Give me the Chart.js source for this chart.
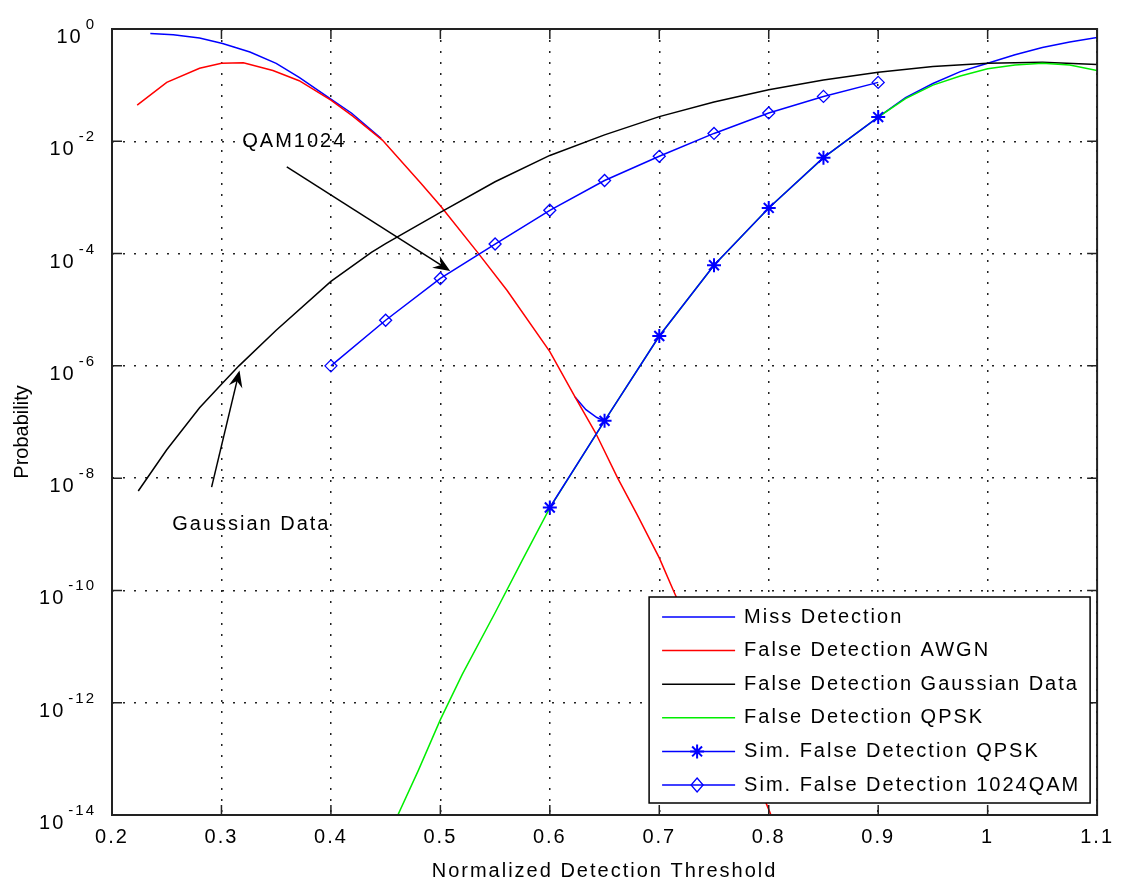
<!DOCTYPE html>
<html>
<head>
<meta charset="utf-8">
<script src="https://cdn.jsdelivr.net/npm/chart.js@4.4.1/dist/chart.umd.min.js"></script>
<style>
  body { margin: 0; background: #fff; }
  #wrap { width: 1121px; height: 883px; }
</style>
</head>
<body>
<div id="wrap"><canvas id="chart" width="1121" height="883"></canvas></div>
<script>
// values (x = normalized threshold, y = probability)
const missX = [0.235, 0.256, 0.28, 0.301, 0.326, 0.35, 0.371, 0.398, 0.419, 0.446, 0.5, 0.623, 0.633, 0.643, 0.65, 0.8, 0.9, 0.925, 0.95, 0.975, 1.0, 1.025, 1.05, 1.075, 1.1]
const missY = [0.83, 0.79, 0.69, 0.55, 0.39, 0.245, 0.138, 0.06, 0.0316, 0.0112, null, 2.8e-7, 1.66e-7, 1.2e-7, 1.05e-7, null, 0.0269, 0.06, 0.107, 0.174, 0.245, 0.347, 0.468, 0.589, 0.708]

const awgnX = [0.223, 0.25, 0.28, 0.3, 0.32, 0.347, 0.371, 0.4, 0.42, 0.447, 0.482, 0.5, 0.534, 0.561, 0.6, 0.623, 0.642, 0.662, 0.68, 0.7, 0.714, 0.75, 0.8, 0.81]
const awgnY = [4.4e-2, 0.112, 0.2, 0.245, 0.25, 0.182, 0.12, 5.4e-2, 2.8e-2, 1.05e-2, 1.8e-3, 7.1e-4, 1.05e-4, 2.2e-5, 1.8e-6, 2.8e-7, 6.3e-8, 1.0e-8, 2.2e-9, 3.8e-10, 8.9e-11, 2.5e-12, 1.26e-14, 4e-15]

const gaussX = [0.224, 0.25, 0.28, 0.3, 0.316, 0.35, 0.4, 0.437, 0.45, 0.5, 0.55, 0.6, 0.65, 0.7, 0.75, 0.8, 0.85, 0.9, 0.95, 1.0, 1.05, 1.1]
const gaussY = [5.9e-9, 3.2e-8, 1.8e-7, 4.7e-7, 1.0e-6, 4.3e-6, 3.2e-5, 1.05e-4, 1.5e-4, 5.4e-4, 1.9e-3, 5.6e-3, 1.3e-2, 2.75e-2, 5.0e-2, 8.3e-2, 0.123, 0.17, 0.214, 0.245, 0.257, 0.234]

const qpskX = [0.46, 0.48, 0.5, 0.52, 0.55, 0.575, 0.6, 0.65, 0.7, 0.75, 0.8, 0.85, 0.9, 0.925, 0.95, 0.975, 1.0, 1.025, 1.05, 1.075, 1.1]
const qpskY = [8.9e-15, 6.3e-14, 5.0e-13, 3.2e-12, 4.0e-11, 3.5e-10, 2.95e-9, 1.05e-7, 3.4e-6, 6.2e-5, 6.5e-4, 5.1e-3, 2.69e-2, 5.75e-2, 0.1, 0.145, 0.195, 0.229, 0.245, 0.229, 0.182]

const simQpskX = [0.6, 0.65, 0.7, 0.75, 0.8, 0.85, 0.9]
const simQpskY = [3.0e-9, 1.05e-7, 3.4e-6, 6.2e-5, 6.5e-4, 5.1e-3, 2.7e-2]

const simQamX = [0.4, 0.45, 0.5, 0.55, 0.6, 0.65, 0.7, 0.75, 0.8, 0.85, 0.9]
const simQamY = [1.0e-6, 6.5e-6, 3.6e-5, 1.48e-4, 5.9e-4, 2.0e-3, 5.4e-3, 1.38e-2, 3.2e-2, 6.3e-2, 0.112]

const seriesLabels = ['Miss Detection', 'False Detection AWGN', 'False Detection Gaussian Data', 'False Detection QPSK', 'Sim. False Detection QPSK', 'Sim. False Detection 1024QAM']

const xTickValues = [0.2, 0.3, 0.4, 0.5, 0.6, 0.7, 0.8, 0.9, 1.0, 1.1]
const xTickLabels = ['0.2', '0.3', '0.4', '0.5', '0.6', '0.7', '0.8', '0.9', '1', '1.1']
const yTickExps = [0, -2, -4, -6, -8, -10, -12, -14]

// text arrows, anchored in data units
const notes = [
  { text: 'QAM1024', x: 0.319, y: 1e-2, fromX: 0.3597, fromY: 3.5e-3, toX: 0.509, toY: 4.9e-5 },
  { text: 'Gaussian Data', x: 0.255, y: 1.5e-9, fromX: 0.291, fromY: 6.9e-9, toX: 0.3165, toY: 8.3e-7 }
]

const FONT = '"Liberation Sans", Arial, sans-serif'
const zip = (xs, ys) => xs.map((x, i) => ({ x: x, y: ys[i] }))

function curve(label, xs, ys, color) {
  return { label: label, data: zip(xs, ys), borderColor: color, backgroundColor: color, borderWidth: 1.5, pointRadius: 0, spanGaps: false }
}

const datasets = [
  curve(seriesLabels[0], missX, missY, '#0000ff'),
  curve(seriesLabels[1], awgnX, awgnY, '#ff0000'),
  curve(seriesLabels[2], gaussX, gaussY, '#000000'),
  curve(seriesLabels[3], qpskX, qpskY, '#00ee00'),
  Object.assign(curve(seriesLabels[4], simQpskX, simQpskY, '#0000ff'), { pointStyle: 'star', pointRadius: 7, pointBorderWidth: 2, pointBorderColor: '#0000ff' }),
  Object.assign(curve(seriesLabels[5], simQamX, simQamY, '#0000ff'), { pointStyle: 'rectRot', pointRadius: 6, pointBorderWidth: 1.3, pointBorderColor: '#0000ff', pointBackgroundColor: 'rgba(0,0,0,0)' })
]
// matlab draws later series on top
datasets.forEach((d, i) => { d.order = datasets.length - i })

function drawMarker(ctx, style, x, y) {
  ctx.save()
  ctx.strokeStyle = '#0000ff'
  ctx.beginPath()
  if (style === 'star') {
    ctx.lineWidth = 2
    const r = 7
    for (let k = 0; k < 4; k++) {
      const a = k * Math.PI / 4
      ctx.moveTo(x - r * Math.cos(a), y - r * Math.sin(a))
      ctx.lineTo(x + r * Math.cos(a), y + r * Math.sin(a))
    }
  } else {
    ctx.lineWidth = 1.3
    ctx.moveTo(x, y - 7); ctx.lineTo(x + 6, y); ctx.lineTo(x, y + 7); ctx.lineTo(x - 6, y); ctx.closePath()
  }
  ctx.stroke()
  ctx.restore()
}

function arrow(ctx, x1, y1, x2, y2) {
  const a = Math.atan2(y2 - y1, x2 - x1)
  const L = 17, W = 7
  ctx.beginPath()
  ctx.moveTo(x1, y1)
  ctx.lineTo(x2 - Math.cos(a) * 8, y2 - Math.sin(a) * 8)
  ctx.stroke()
  ctx.beginPath()
  ctx.moveTo(x2, y2)
  ctx.lineTo(x2 - L * Math.cos(a) + W * Math.sin(a), y2 - L * Math.sin(a) - W * Math.cos(a))
  ctx.lineTo(x2 - 11 * Math.cos(a), y2 - 11 * Math.sin(a))
  ctx.lineTo(x2 - L * Math.cos(a) - W * Math.sin(a), y2 - L * Math.sin(a) + W * Math.cos(a))
  ctx.closePath()
  ctx.fill()
}

const decorations = {
  id: 'decorations',
  beforeDraw(chart) {
    const ctx = chart.ctx
    ctx.save()
    ctx.fillStyle = '#fff'
    ctx.fillRect(0, 0, chart.width, chart.height)
    ctx.restore()
    ctx.letterSpacing = '2px'
  },
  afterDatasetsDraw(chart) {
    const { ctx, chartArea: a, scales: { x, y } } = chart
    ctx.save()
    // box and inward ticks
    ctx.strokeStyle = '#222'
    ctx.lineWidth = 1.5
    ctx.beginPath()
    x.ticks.forEach(t => {
      const px = x.getPixelForValue(t.value)
      ctx.moveTo(px, a.bottom); ctx.lineTo(px, a.bottom - 10)
      ctx.moveTo(px, a.top); ctx.lineTo(px, a.top + 10)
    })
    y.ticks.forEach(t => {
      const py = y.getPixelForValue(t.value)
      ctx.moveTo(a.left, py); ctx.lineTo(a.left + 10, py)
      ctx.moveTo(a.right, py); ctx.lineTo(a.right - 10, py)
    })
    ctx.stroke()
    ctx.lineWidth = 2
    ctx.strokeRect(a.left, a.top, a.right - a.left, a.bottom - a.top)

    // y tick labels with superscript exponents
    ctx.fillStyle = '#000'
    ctx.textBaseline = 'alphabetic'
    ctx.letterSpacing = '2px'
    y.ticks.forEach(t => {
      const py = y.getPixelForValue(t.value)
      const e = String(Math.round(Math.log10(t.value)))
      ctx.font = '15px ' + FONT
      const we = ctx.measureText(e).width
      ctx.textAlign = 'left'
      ctx.fillText(e, 96 - we, py)
      ctx.font = '20px ' + FONT
      ctx.textAlign = 'right'
      ctx.fillText('10', 96 - we - 3, py + 14)
    })

    // y title
    ctx.save()
    ctx.letterSpacing = '0px'
    ctx.font = '20px ' + FONT
    ctx.textAlign = 'center'
    ctx.textBaseline = 'middle'
    ctx.translate(22, 432)
    ctx.rotate(-Math.PI / 2)
    ctx.fillText('Probability', 0, 0)
    ctx.restore()

    // annotations
    ctx.font = '20px ' + FONT
    ctx.textAlign = 'left'
    ctx.textBaseline = 'middle'
    ctx.strokeStyle = '#000'
    ctx.fillStyle = '#000'
    ctx.lineWidth = 1.5
    notes.forEach(n => {
      ctx.fillText(n.text, x.getPixelForValue(n.x), y.getPixelForValue(n.y))
      arrow(ctx, x.getPixelForValue(n.fromX), y.getPixelForValue(n.fromY), x.getPixelForValue(n.toX), y.getPixelForValue(n.toY))
    })

    // legend box
    const w = 441, h = 206
    const x0 = a.right - 7 - w, y0 = a.bottom - 12 - h
    ctx.fillStyle = '#fff'
    ctx.fillRect(x0, y0, w, h)
    ctx.strokeStyle = '#000'
    ctx.lineWidth = 1.5
    ctx.strokeRect(x0, y0, w, h)
    chart.data.datasets.forEach((ds, i) => {
      const ly = y0 + 20 + i * 33.6
      ctx.strokeStyle = ds.borderColor
      ctx.lineWidth = 1.5
      ctx.beginPath(); ctx.moveTo(x0 + 13, ly); ctx.lineTo(x0 + 86, ly); ctx.stroke()
      if (ds.pointStyle) drawMarker(ctx, ds.pointStyle, x0 + 48, ly)
      ctx.fillStyle = '#000'
      ctx.fillText(ds.label, x0 + 95, ly)
    })
    ctx.restore()
  }
}

new Chart(document.getElementById('chart'), {
  type: 'line',
  data: { datasets: datasets },
  plugins: [decorations],
  options: {
    responsive: false,
    animation: false,
    layout: { padding: { top: 29, right: 21, left: 0, bottom: 0 } },
    elements: { line: { tension: 0 } },
    plugins: { legend: { display: false }, tooltip: { enabled: false } },
    scales: {
      x: {
        type: 'linear',
        min: 0.2,
        max: 1.1,
        afterBuildTicks: s => { s.ticks = xTickValues.map(v => ({ value: v })) },
        afterFit: s => { s.height = 68 },
        grid: { color: '#222', lineWidth: 1.5, drawTicks: false },
        border: { display: false, dash: [2, 9] },
        ticks: {
          color: '#000',
          padding: 10,
          maxRotation: 0,
          autoSkip: false,
          font: { family: FONT, size: 20 },
          callback: (v, i) => xTickLabels[i]
        },
        title: {
          display: true,
          text: 'Normalized Detection Threshold',
          color: '#000',
          font: { family: FONT, size: 20 },
          padding: { top: 0, bottom: 0 }
        }
      },
      y: {
        type: 'logarithmic',
        min: 1e-14,
        max: 1,
        afterBuildTicks: s => { s.ticks = yTickExps.map(e => ({ value: Math.pow(10, e) })) },
        afterFit: s => { s.width = 112 },
        grid: { color: '#222', lineWidth: 1.5, drawTicks: false },
        border: { display: false, dash: [2, 9] },
        ticks: { display: false }
      }
    }
  }
})
</script>
</body>
</html>
